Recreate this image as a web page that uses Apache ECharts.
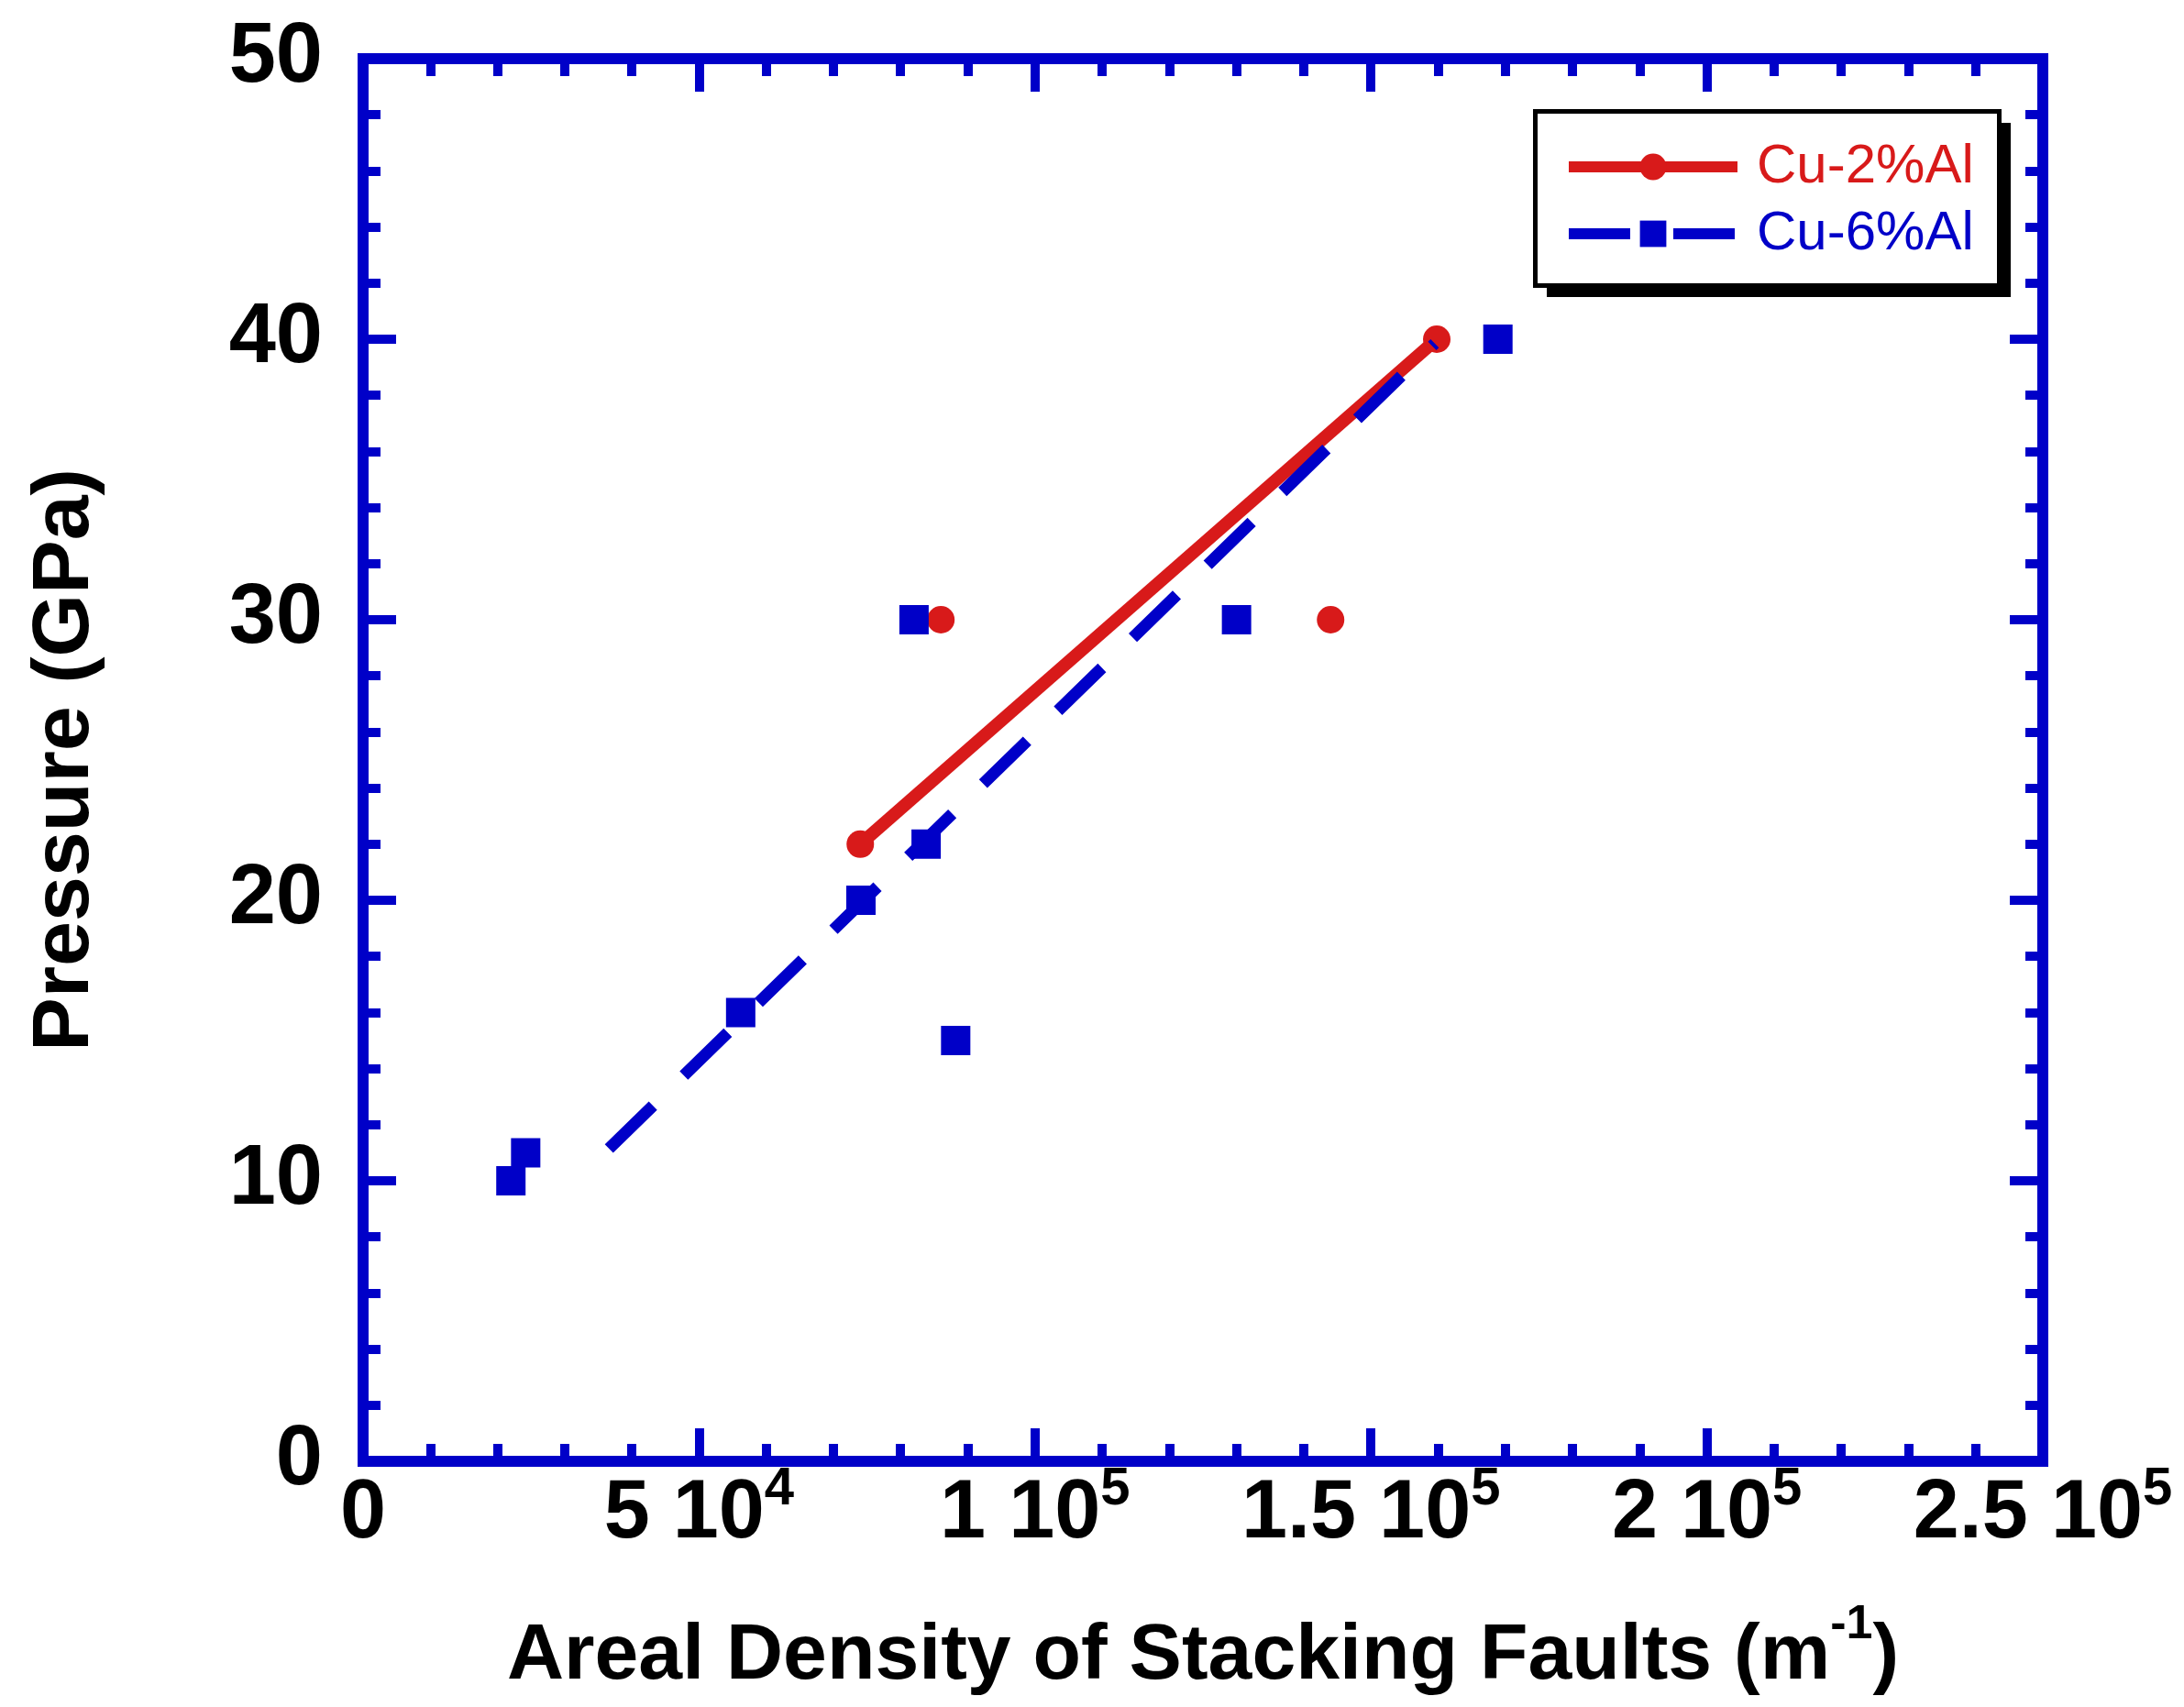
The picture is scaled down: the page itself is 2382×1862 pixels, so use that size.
<!DOCTYPE html>
<html>
<head>
<meta charset="utf-8">
<script src="https://cdn.jsdelivr.net/npm/echarts@6/dist/echarts.min.js"></script>
<style>
  html, body { margin: 0; padding: 0; background: #fff; }
  #main { width: 2382px; height: 1862px; }
</style>
</head>
<body>
<div id="main"></div>
<script>
// measured points
var cu2X = [74000, 86000, 144000, 159800];
var cu2Y = [22, 30, 30, 40];
var cu6X = [22000, 24200, 56200, 74100, 83800, 88200, 82000, 130000, 168900];
var cu6Y = [10, 11, 16, 20, 22, 15, 30, 30, 40];

// fitted lines (end points)
var cu2FitX = [74000, 159800];
var cu2FitY = [22, 40];
var cu6FitX = [36600, 159500];
var cu6FitY = [11.15, 39.85];

// tick labels: mantissa and power of ten
var xTickMant = ['0', '5', '1', '1.5', '2', '2.5'];
var xTickExp = ['', '4', '5', '5', '5', '5'];

var RED = '#d81a1a';
var BLUE = '#0000c8';
var FONT = 'Liberation Sans, Arial, sans-serif';

function pairs(xs, ys) {
    return xs.map(function (x, i) { return [x, ys[i]]; });
}

var myChart = echarts.init(document.getElementById('main'));

var frameLine = { onZero: false, lineStyle: { color: BLUE, width: 12, cap: 'square' } };
var majorTick = { show: true, inside: true, length: 36, lineStyle: { color: BLUE, width: 10 } };
var minorTick = { show: true, splitNumber: 5, length: 19, lineStyle: { color: BLUE, width: 10 } };

option = {
    backgroundColor: '#fff',
    animation: false,
    grid: {
        left: 396,
        top: 64,
        width: 1832,
        height: 1530,
        outerBoundsMode: 'none'
    },
    // legend frame with its drop shadow
    graphic: [{
        type: 'rect',
        left: 1687,
        top: 134,
        shape: { width: 506, height: 190 },
        style: { fill: '#000' },
        z: 10
    }, {
        type: 'rect',
        left: 1672,
        top: 119,
        shape: { width: 506, height: 190 },
        style: { fill: '#fff', stroke: '#000', lineWidth: 5 },
        z: 11
    }],
    legend: {
        left: 1675,
        top: 122,
        orient: 'vertical',
        padding: [30, 42, 28, 30],
        itemGap: 13,
        itemWidth: 184,
        itemHeight: 36,
        z: 20,
        lineStyle: { width: 12 },
        textStyle: {
            fontFamily: FONT,
            fontSize: 60,
            lineHeight: 60,
            padding: [0, 0, 0, 16]
        },
        data: [
            { name: 'Cu-2%Al', textStyle: { color: RED } },
            { name: 'Cu-6%Al', textStyle: { color: BLUE } }
        ]
    },
    xAxis: [{
        type: 'value',
        position: 'bottom',
        min: 0,
        max: 250000,
        interval: 50000,
        axisLine: frameLine,
        axisTick: majorTick,
        minorTick: minorTick,
        splitLine: { show: false },
        axisLabel: {
            margin: 2,
            formatter: function (v) {
                var i = Math.round(v / 50000);
                if (!xTickExp[i]) return '{n|' + xTickMant[i] + '}';
                return '{n|' + xTickMant[i] + ' 10}{s|' + xTickExp[i] + '}';
            },
            rich: {
                n: { fontFamily: FONT, fontSize: 90, fontWeight: 'bold', color: '#000', lineHeight: 112 },
                s: { fontFamily: FONT, fontSize: 58, fontWeight: 'bold', color: '#000', lineHeight: 50, verticalAlign: 'top' }
            }
        },
        name: 'Areal Density of Stacking Faults (m{s|-1})',
        nameLocation: 'middle',
        nameGap: 153,
        nameTextStyle: {
            fontFamily: FONT,
            fontSize: 86,
            fontWeight: 'bold',
            color: '#000',
            lineHeight: 120,
            rich: {
                s: { fontFamily: FONT, fontSize: 52, fontWeight: 'bold', color: '#000', lineHeight: 50, verticalAlign: 'top' }
            }
        }
    }, {
        type: 'value',
        position: 'top',
        min: 0,
        max: 250000,
        interval: 50000,
        axisLine: frameLine,
        axisTick: majorTick,
        minorTick: minorTick,
        splitLine: { show: false },
        axisLabel: { show: false }
    }],
    yAxis: [{
        type: 'value',
        position: 'left',
        min: 0,
        max: 50,
        interval: 10,
        axisLine: frameLine,
        axisTick: majorTick,
        minorTick: minorTick,
        splitLine: { show: false },
        axisLabel: {
            margin: 44,
            fontFamily: FONT,
            fontSize: 92,
            fontWeight: 'bold',
            color: '#000'
        },
        name: 'Pressure (GPa)',
        nameLocation: 'middle',
        nameGap: 280,
        nameTextStyle: {
            fontFamily: FONT,
            fontSize: 88,
            fontWeight: 'bold',
            color: '#000'
        }
    }, {
        type: 'value',
        position: 'right',
        min: 0,
        max: 50,
        interval: 10,
        axisLine: frameLine,
        axisTick: majorTick,
        minorTick: minorTick,
        splitLine: { show: false },
        axisLabel: { show: false }
    }],
    series: [{
        name: 'Cu-2%Al',
        type: 'line',
        data: pairs(cu2FitX, cu2FitY),
        symbol: 'circle',
        symbolSize: 30,
        showSymbol: false,
        itemStyle: { color: RED },
        lineStyle: { color: RED, width: 14 },
        z: 2
    }, {
        name: 'Cu-2%Al data',
        type: 'scatter',
        data: pairs(cu2X, cu2Y),
        symbol: 'circle',
        symbolSize: 30,
        itemStyle: { color: RED, opacity: 1 },
        z: 3
    }, {
        name: 'Cu-6%Al',
        type: 'line',
        data: pairs(cu6FitX, cu6FitY),
        symbol: 'rect',
        symbolSize: 32,
        showSymbol: false,
        itemStyle: { color: BLUE },
        lineStyle: { color: BLUE, width: 13, type: [67, 47] },
        z: 4
    }, {
        name: 'Cu-6%Al data',
        type: 'scatter',
        data: pairs(cu6X, cu6Y),
        symbol: 'rect',
        symbolSize: 32,
        itemStyle: { color: BLUE, opacity: 1 },
        z: 5
    }]
};

myChart.setOption(option);
</script>
</body>
</html>
